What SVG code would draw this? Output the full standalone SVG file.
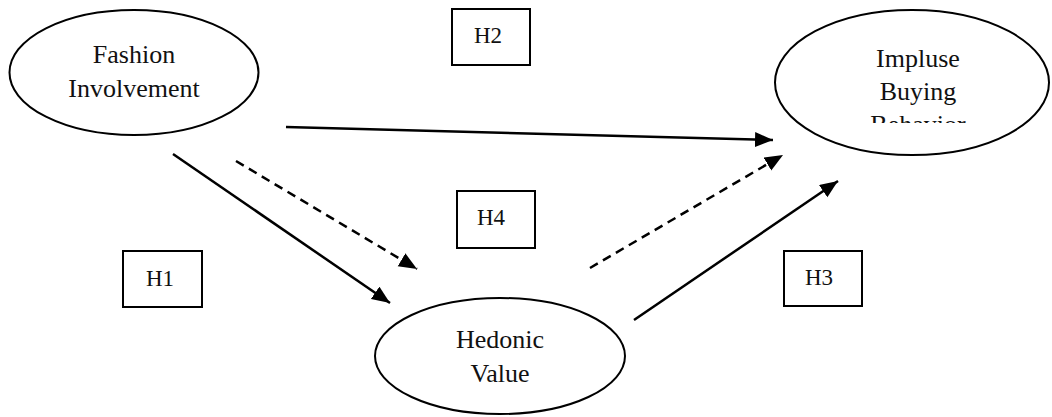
<svg xmlns="http://www.w3.org/2000/svg" width="1052" height="417" viewBox="0 0 1052 417">
<style>
.node{fill:#fff;stroke:#000;stroke-width:2}
.box{fill:#fff;stroke:#000;stroke-width:2}
.t{font-family:"Liberation Serif","Times New Roman",serif;font-size:26px;fill:#111;text-anchor:middle}
.lbl{font-family:"Liberation Serif","Times New Roman",serif;font-size:23px;fill:#111;text-anchor:middle}
.c{stroke:#000;stroke-width:2.5;fill:none}
.d{stroke-dasharray:9,6}
</style>
<defs>
<marker id="ah" markerUnits="userSpaceOnUse" markerWidth="20" markerHeight="16" refX="18" refY="7.5" orient="auto">
<path d="M0,0 L18,7.5 L0,15 z" fill="#000"/>
</marker>
<clipPath id="clipIB"><rect x="780" y="0" width="272" height="123"/></clipPath>
</defs>
<rect width="1052" height="417" fill="#fff"/>
<g id="connectors">
<line class="c" x1="286" y1="127" x2="773" y2="140" marker-end="url(#ah)"/>
<line class="c" x1="173" y1="154" x2="390" y2="303" marker-end="url(#ah)"/>
<line class="c d" x1="236" y1="161" x2="417" y2="269" marker-end="url(#ah)"/>
<line class="c d" x1="590" y1="268" x2="783" y2="155" marker-end="url(#ah)"/>
<line class="c" x1="634" y1="320" x2="838" y2="181" marker-end="url(#ah)"/>
</g>
<g id="fashion">
<ellipse class="node" cx="134" cy="72.5" rx="124.5" ry="62.5"/>
<text class="t" x="134" y="63">Fashion</text>
<text class="t" x="134" y="97">Involvement</text>
</g>
<g id="impulse">
<ellipse class="node" cx="912" cy="82.5" rx="137" ry="72.5"/>
<g clip-path="url(#clipIB)">
<text class="t" x="918" y="67">Impluse</text>
<text class="t" x="918" y="100">Buying</text>
<text class="t" x="918" y="133">Behavior</text>
</g>
</g>
<g id="hedonic">
<ellipse class="node" cx="500" cy="356" rx="125" ry="58"/>
<text class="t" x="500" y="348">Hedonic</text>
<text class="t" x="500" y="382">Value</text>
</g>
<g id="h1">
<rect class="box" x="123" y="251" width="79" height="56"/>
<text class="lbl" x="160" y="286">H1</text>
</g>
<g id="h2">
<rect class="box" x="452" y="9" width="78" height="56"/>
<text class="lbl" x="488" y="43">H2</text>
</g>
<g id="h3">
<rect class="box" x="784" y="251" width="78" height="55"/>
<text class="lbl" x="819" y="285">H3</text>
</g>
<g id="h4">
<rect class="box" x="457" y="191" width="78" height="57"/>
<text class="lbl" x="491" y="225">H4</text>
</g>
</svg>
